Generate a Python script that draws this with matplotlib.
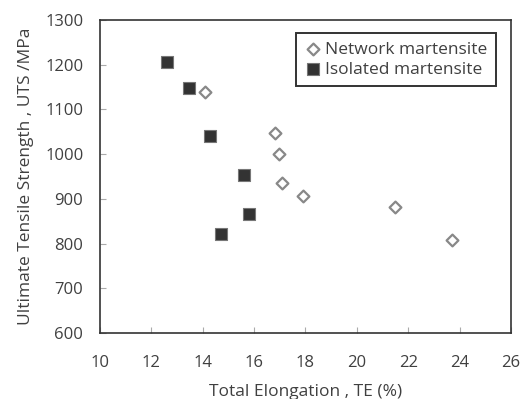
"""
UTS vs total elongation for network and isolated martensite.
"""

import matplotlib

matplotlib.use("Agg")
import matplotlib.pyplot as plt

# Network martensite (open diamonds)
network_te = [14.1, 16.8, 16.95, 17.1, 17.9, 21.5, 23.7]
network_uts = [1140, 1048, 1000, 936, 907, 882, 808]

# Isolated martensite (filled squares)
isolated_te = [12.6, 13.45, 14.3, 15.6, 15.8, 14.7]
isolated_uts = [1207, 1149, 1041, 953, 866, 822]

x_ticks = list(range(10, 27, 2))
y_ticks = list(range(600, 1301, 100))

TEXT = "#404040"


def main() -> None:
    plt.rcParams["font.family"] = ["Open Sans", "DejaVu Sans"]
    fig = plt.figure(figsize=(5.29, 3.99), dpi=100)
    ax = fig.add_axes([0.189, 0.165, 0.777, 0.785])

    ax.scatter(
        network_te, network_uts, marker="D", s=36, facecolors="white",
        edgecolors="#888888", linewidths=1.6, label="Network martensite", zorder=3,
    )
    ax.scatter(
        isolated_te, isolated_uts, marker="s", s=72, facecolors="#333333",
        edgecolors="#777777", linewidths=0.8, label="Isolated martensite", zorder=3,
    )

    ax.set_xlim(10, 26)
    ax.set_ylim(600, 1300)
    ax.set_xticks(x_ticks)
    ax.set_yticks(y_ticks)
    ax.tick_params(direction="in", length=4, color="#aaaaaa", labelsize=12,
                   labelcolor=TEXT)
    ax.tick_params(axis="x", pad=16)
    ax.tick_params(axis="y", pad=12)
    for side in ax.spines.values():
        side.set_color("#333333")
        side.set_linewidth(1.2)

    ax.set_xlabel("Total Elongation , TE (%)", fontsize=12.5, color=TEXT, labelpad=9)
    ax.set_ylabel("Ultimate Tensile Strength , UTS /MPa", fontsize=12.5, color=TEXT,
                  labelpad=8)

    leg = ax.legend(loc="upper right", bbox_to_anchor=(0.964, 0.958), fontsize=12.5,
                    frameon=True, fancybox=False, handletextpad=0.2,
                    handlelength=1.0, borderpad=0.5, labelspacing=0.2,
                    borderaxespad=0)
    leg.get_frame().set_edgecolor("black")
    leg.get_frame().set_linewidth(1.4)
    for text in leg.get_texts():
        text.set_color(TEXT)

    fig.savefig("out.png", dpi=100)


if __name__ == "__main__":
    main()
